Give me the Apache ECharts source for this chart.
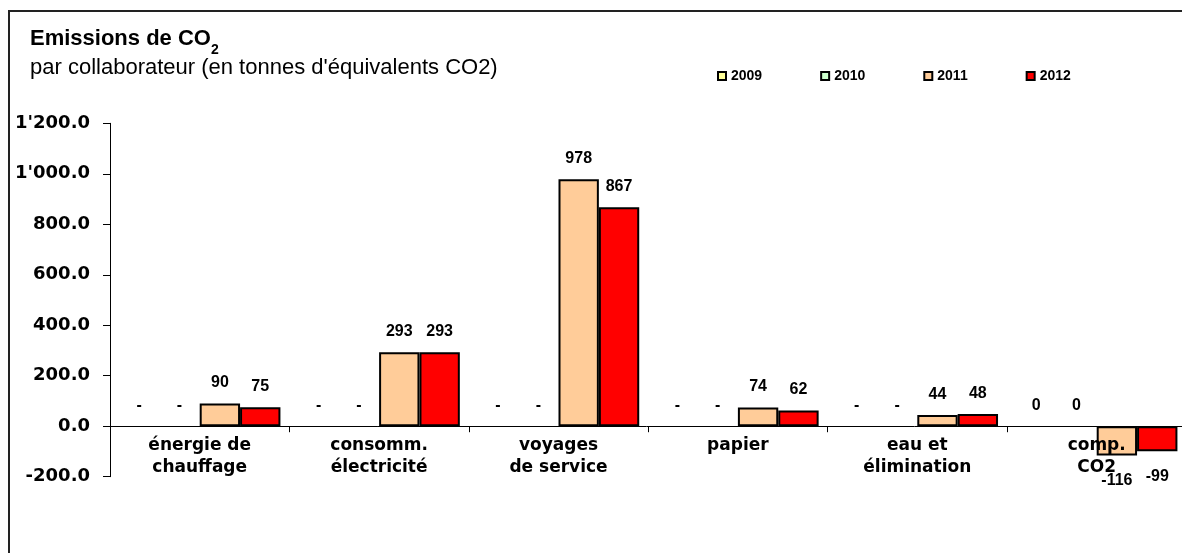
<!DOCTYPE html>
<html>
<head>
<meta charset="utf-8">
<script src="https://cdn.jsdelivr.net/npm/echarts@6/dist/echarts.min.js"></script>
<style>
html,body{margin:0;padding:0;background:#fff;}
#chart{width:1182px;height:553px;}
</style>
</head>
<body>
<div id="chart"></div>
<script>
// ---- data ----
const categories = ['énergie de\nchauffage', 'consomm.\nélectricité', 'voyages\nde service', 'papier', 'eau et\nélimination', 'comp.\nCO2'];
const seriesNames = ['2009', '2010', '2011', '2012'];
const values2009 = [0, 0, 0, 0, 0, 0];
const values2010 = [0, 0, 0, 0, 0, 0];
const values2011 = [90, 293, 978, 74, 44, -116];
const values2012 = [75, 293, 867, 62, 48, -99];
const labels2009 = ['-', '-', '-', '-', '-', '0'];
const labels2010 = ['-', '-', '-', '-', '-', '0'];
const yMin = -200, yMax = 1200, yStep = 200;

// ---- styles ----
const colors = ['#FFFF99', '#CCFFCC', '#FFCC99', '#FF0000'];
const ARIAL = '"Liberation Sans", Arial, sans-serif';
const WIDE = '"DejaVu Sans", Verdana, sans-serif';

function fmtY(v) {
  const neg = v < 0;
  const a = Math.abs(v).toFixed(1);
  const [ip, dp] = a.split('.');
  const withSep = ip.replace(/\B(?=(\d{3})+(?!\d))/g, "'");
  return (neg ? '-' : '') + withSep + '.' + dp;
}

const labelBase = {
  show: true,
  distance: 13,
  fontFamily: ARIAL,
  fontWeight: 'bold',
  fontSize: 16,
  color: '#000'
};

function zeroSeries(name, vals, labels, color) {
  return {
    name: name,
    type: 'bar',
    barGap: '0%',
    barCategoryGap: '10%',
    itemStyle: { color: color, borderWidth: 0 },
    label: Object.assign({}, labelBase, {
      position: 'top',
      formatter: p => labels[p.dataIndex]
    }),
    data: vals
  };
}

function valueSeries(name, vals, color) {
  return {
    name: name,
    type: 'bar',
    barGap: '0%',
    barCategoryGap: '10%',
    itemStyle: { color: color, borderColor: '#000', borderWidth: 2 },
    label: Object.assign({}, labelBase, { position: 'top', formatter: p => String(p.value) }),
    data: vals.map(v => v < 0 ? { value: v, label: { position: 'bottom', distance: 17 } } : v)
  };
}

const gridTop = 123.3, gridHeight = 353.4;
const zeroOffset = -gridHeight * (0 - yMin) / (yMax - yMin);

const chart = echarts.init(document.getElementById('chart'), null, { renderer: 'canvas' });
chart.setOption({
  animation: false,
  backgroundColor: '#fff',
  title: {
    left: 30,
    top: 27,
    padding: 0,
    itemGap: 0,
    text: '{t|Emissions de CO}{s|2}',
    textStyle: {
      rich: {
        t: { fontFamily: ARIAL, fontWeight: 'bold', fontSize: 22, color: '#000', lineHeight: 24 },
        s: { fontFamily: ARIAL, fontWeight: 'bold', fontSize: 14, color: '#000', lineHeight: 24, verticalAlign: 'bottom', padding: [0, 0, -6, 0] }
      }
    },
    subtext: "par collaborateur (en tonnes d'équivalents CO2)",
    subtextStyle: { fontFamily: ARIAL, fontSize: 22, color: '#000', lineHeight: 24 }
  },
  legend: {
    left: 717,
    top: 69,
    padding: 0,
    itemWidth: 8,
    itemHeight: 8,
    itemGap: 58,
    icon: 'rect',
    textStyle: { fontFamily: ARIAL, fontWeight: 'bold', fontSize: 14, color: '#000' },
    data: seriesNames.map(n => ({ name: n, itemStyle: { borderColor: '#000', borderWidth: 2 } }))
  },
  grid: {
    left: 110,
    top: gridTop,
    width: 1076.4,
    height: gridHeight,
    containLabel: false,
    outerBoundsMode: 'none'
  },
  xAxis: [{
    type: 'category',
    data: categories,
    z: 5,
    axisLine: { onZero: true, lineStyle: { color: '#000', width: 1 } },
    axisTick: { show: true, length: 6, inside: false, lineStyle: { color: '#000' } },
    axisLabel: { show: false },
    splitLine: { show: false }
  }, {
    type: 'category',
    data: categories,
    position: 'bottom',
    offset: zeroOffset,
    z: 6,
    axisLine: { show: false, onZero: false },
    axisTick: { show: false },
    axisLabel: {
      interval: 0,
      margin: 8,
      fontFamily: WIDE,
      fontWeight: 'bold',
      fontSize: 17,
      lineHeight: 22,
      color: '#000'
    },
    splitLine: { show: false }
  }],
  yAxis: {
    type: 'value',
    min: yMin,
    max: yMax,
    interval: yStep,
    axisLine: { show: true, lineStyle: { color: '#000', width: 1 } },
    axisTick: { show: true, length: 7, lineStyle: { color: '#000' } },
    axisLabel: {
      margin: 20,
      fontFamily: WIDE,
      fontWeight: 'bold',
      fontSize: 18,
      color: '#000',
      formatter: fmtY
    },
    splitLine: { show: false }
  },
  series: [
    zeroSeries(seriesNames[0], values2009, labels2009, colors[0]),
    zeroSeries(seriesNames[1], values2010, labels2010, colors[1]),
    valueSeries(seriesNames[2], values2011, colors[2]),
    valueSeries(seriesNames[3], values2012, colors[3])
  ],
  graphic: [{
    type: 'rect',
    silent: true,
    z: 100,
    shape: { x: 9, y: 11, width: 1200, height: 600 },
    style: { fill: null, stroke: '#222', lineWidth: 2 }
  }]
});
</script>
</body>
</html>
